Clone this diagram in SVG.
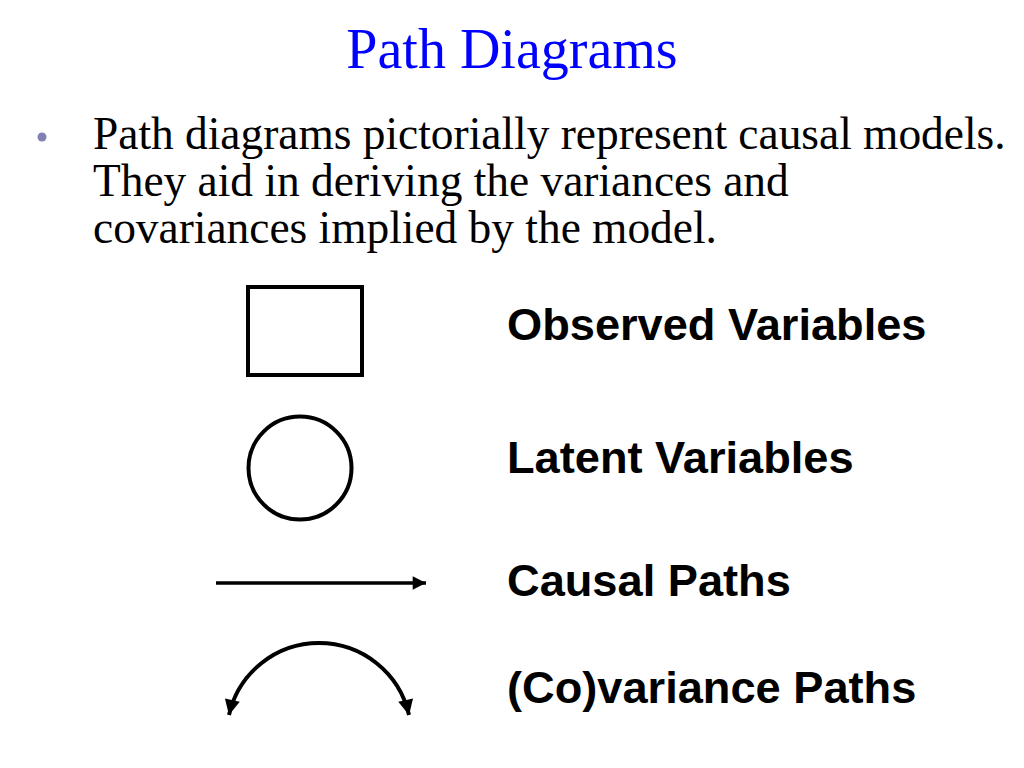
<svg xmlns="http://www.w3.org/2000/svg" width="1024" height="768" viewBox="0 0 1024 768">
<style>
.title{font-family:"Liberation Serif","Times New Roman",serif;font-size:56px;fill:#0000ff}
.body{font-family:"Liberation Serif","Times New Roman",serif;font-size:45.4px;fill:#000}
.lbl{font-family:"Liberation Sans",Arial,sans-serif;font-size:45.2px;font-weight:bold;fill:#000}
.shape{fill:none;stroke:#000;stroke-width:4}
.conn{fill:none;stroke:#000;stroke-width:3.5}
.arc{stroke-width:4}
</style>
<defs>
<marker id="ah" viewBox="0 0 10 10" refX="10" refY="5" markerWidth="4" markerHeight="3.8" markerUnits="strokeWidth" orient="auto-start-reverse">
<path d="M0,0 L10,5 L0,10 z" fill="#000"/>
</marker>
</defs>
<rect width="1024" height="768" fill="#fff"/>
<text class="title" x="512" y="68" text-anchor="middle">Path Diagrams</text>
<circle cx="42" cy="137" r="4.5" fill="#8080b4"/>
<text class="body" x="93" y="149">Path diagrams pictorially represent causal models.</text>
<text class="body" x="93" y="196">They aid in deriving the variances and</text>
<text class="body" x="93" y="243">covariances implied by the model.</text>
<g id="observed">
<rect class="shape" x="248" y="287" width="114" height="88"/>
</g>
<g id="latent">
<circle class="shape" cx="300" cy="468" r="51.5"/>
</g>
<g id="connectors">
<line class="conn" x1="216" y1="583" x2="426" y2="583" marker-end="url(#ah)"/>
<path class="conn arc" d="M229,715 A92.25,92.25 0 0 1 409,715" marker-start="url(#ah)" marker-end="url(#ah)"/>
</g>
<text class="lbl" x="507" y="340">Observed Variables</text>
<text class="lbl" x="507" y="473">Latent Variables</text>
<text class="lbl" x="507" y="596">Causal Paths</text>
<text class="lbl" x="507" y="703">(Co)variance Paths</text>
</svg>
